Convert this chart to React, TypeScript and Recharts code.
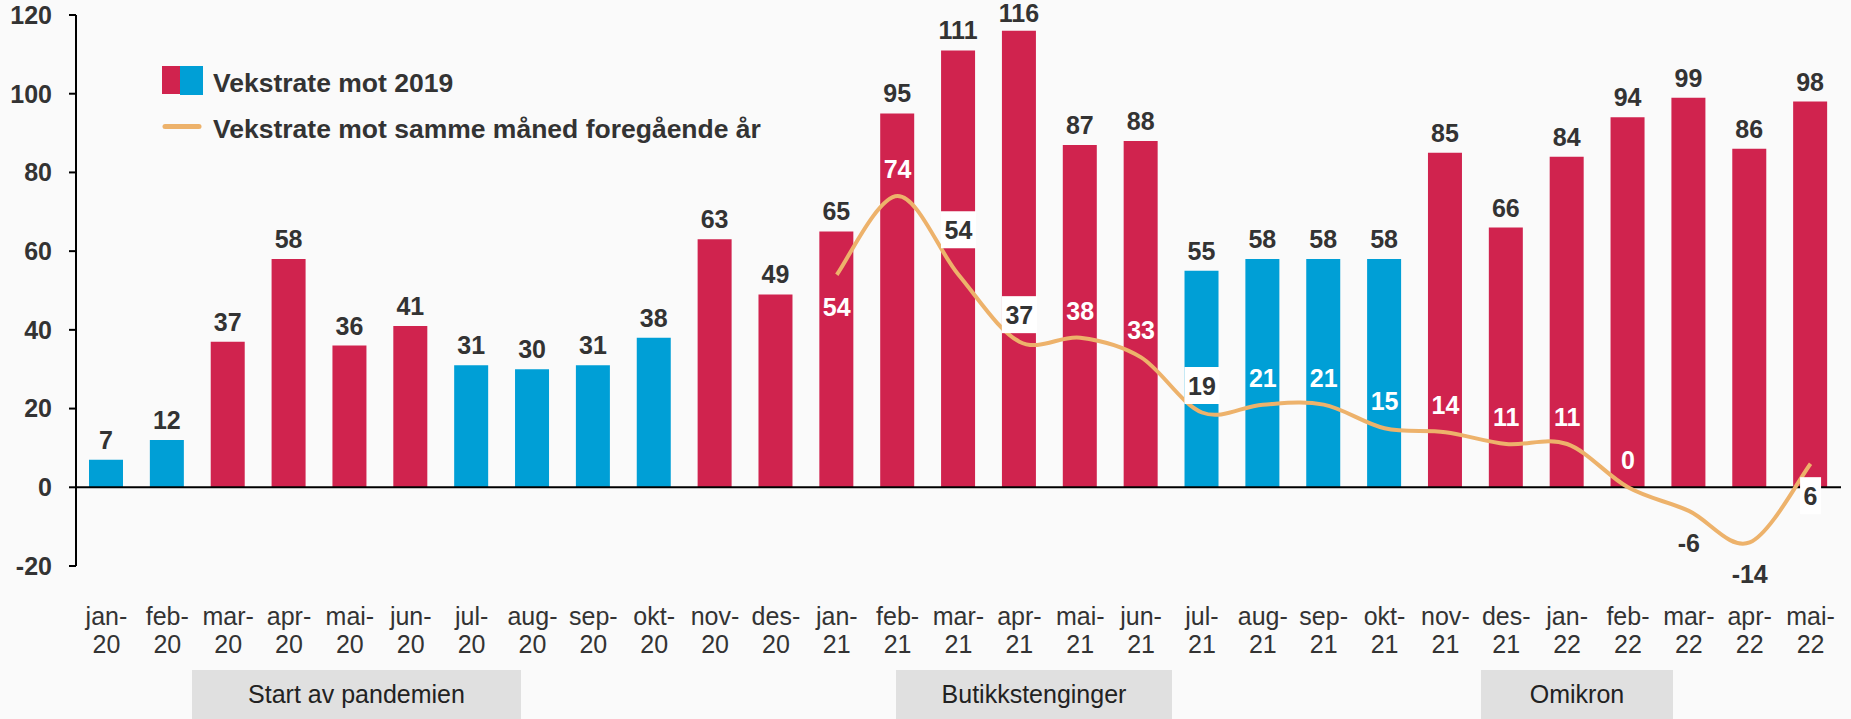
import React from 'react';
import { ComposedChart, Bar, Line, XAxis, YAxis, ReferenceLine, LabelList, Cell } from 'recharts';

// Månedene på x-aksen
const months = [
  'jan-20', 'feb-20', 'mar-20', 'apr-20', 'mai-20', 'jun-20', 'jul-20', 'aug-20', 'sep-20', 'okt-20', 'nov-20', 'des-20',
  'jan-21', 'feb-21', 'mar-21', 'apr-21', 'mai-21', 'jun-21', 'jul-21', 'aug-21', 'sep-21', 'okt-21', 'nov-21', 'des-21',
  'jan-22', 'feb-22', 'mar-22', 'apr-22', 'mai-22',
];

// Vekstrate mot 2019 (søyler)
const vekstMot2019 = [7, 12, 37, 58, 36, 41, 31, 30, 31, 38, 63, 49, 65, 95, 111, 116, 87, 88, 55, 58, 58, 58, 85, 66, 84, 94, 99, 86, 98];

// Vekstrate mot samme måned foregående år (linje)
const vekstMotFjoraret = [
  null, null, null, null, null, null, null, null, null, null, null, null,
  54, 74, 54, 37, 38, 33, 19, 21, 21, 15, 14, 11, 11, 0, -6, -14, 6,
];

// periode: 'R' = rød søyle, 'B' = blå søyle
const periode = ['B', 'B', 'R', 'R', 'R', 'R', 'B', 'B', 'B', 'B', 'R', 'R', 'R', 'R', 'R', 'R', 'R', 'R', 'B', 'B', 'B', 'B', 'R', 'R', 'R', 'R', 'R', 'R', 'R'];

const yTicks = [-20, 0, 20, 40, 60, 80, 100, 120];
const hendelser = ['Start av pandemien', 'Butikkstenginger', 'Omikron'];
const legendLabels = ['Vekstrate mot 2019', 'Vekstrate mot samme måned foregående år'];

const RED = '#D0234E';
const BLUE = '#009FD6';
const ORANGE = '#EDB26B';
const TEXT = '#333333';
const FONT = '"Liberation Sans", Arial, sans-serif';

const data = months.map((m, i) => ({ month: m, v2019: vekstMot2019[i], vYoY: vekstMotFjoraret[i] }));

// plassering av linjeetikettene
const boxedLabels = new Set(['mar-21', 'apr-21', 'jul-21', 'mai-22']);
const labelsBelow = new Set(['jan-21', 'mar-22', 'apr-22', 'mai-22']);

const BarLabel = (props: any) => {
  const vb = props.viewBox || props;
  const cx = vb.x + vb.width / 2;
  const cy = Math.max(vb.y - 20, 13);
  return (
    <text x={cx} y={cy} dy="0.36em" textAnchor="middle" fill={TEXT} fontSize={25} fontWeight="bold" fontFamily={FONT}>
      {props.value}
    </text>
  );
};

const LineLabel = (props: any) => {
  const { value, index } = props;
  if (value == null) return null;
  const vb = props.viewBox || props;
  const x = vb.x;
  const y = vb.y;
  const m = months[index];
  const dy = m === 'mar-21' ? -45 : labelsBelow.has(m) ? 32 : -27;
  const cy = y + dy;
  const boxed = boxedLabels.has(m);
  const color = boxed || value < 0 ? TEXT : '#ffffff';
  const w = String(value).length * 14 + 7;
  return (
    <g>
      {boxed && <rect x={x - w / 2} y={cy - 18.5} width={w} height={37} fill="#ffffff" />}
      <text x={x} y={cy} dy="0.36em" textAnchor="middle" fill={color} fontSize={25} fontWeight="bold" fontFamily={FONT}>
        {value}
      </text>
    </g>
  );
};

const MonthTick = (props: any) => {
  const { x, y, payload } = props;
  const [m, yr] = String(payload.value).split('-');
  return (
    <text x={x} y={y} textAnchor="middle" fill={TEXT} fontSize={25} fontFamily={FONT}>
      <tspan x={x} y={y + 59}>{m}-</tspan>
      <tspan x={x} y={y + 87}>{yr}</tspan>
    </text>
  );
};

// Excel-aktig glatting (Catmull-Rom)
const smoothCurve = (context: any) => {
  let pts: number[][] = [];
  return {
    areaStart() {},
    areaEnd() {},
    lineStart() { pts = []; },
    point(x: number, y: number) { pts.push([+x, +y]); },
    lineEnd() {
      if (!pts.length) return;
      context.moveTo(pts[0][0], pts[0][1]);
      for (let i = 0; i < pts.length - 1; i++) {
        const p0 = pts[i - 1] || pts[i];
        const p1 = pts[i];
        const p2 = pts[i + 1];
        const p3 = pts[i + 2] || p2;
        context.bezierCurveTo(
          p1[0] + (p2[0] - p0[0]) / 6, p1[1] + (p2[1] - p0[1]) / 6,
          p2[0] - (p3[0] - p1[0]) / 6, p2[1] - (p3[1] - p1[1]) / 6,
          p2[0], p2[1],
        );
      }
    },
  };
};

const boxes = [
  { left: 192, width: 329 },
  { left: 896, width: 276 },
  { left: 1481, width: 192 },
];

const App: React.FC = () => {
  return (
    <div style={{ position: 'relative', width: 1851, height: 719, background: '#fafafa', fontFamily: FONT }}>
      <style>{`body{margin:0}`}</style>
      <ComposedChart width={1851} height={719} data={data} margin={{ top: 15, right: 10, bottom: 53, left: 0 }} barSize={34}>
        <XAxis dataKey="month" axisLine={false} tickLine={false} tickSize={0} tickMargin={0} height={100} interval={0} tick={<MonthTick />} />
        <YAxis
          domain={[-20, 120]}
          ticks={yTicks}
          width={76}
          axisLine={{ stroke: '#000', strokeWidth: 2 }}
          tickLine={{ stroke: '#000', strokeWidth: 2 }}
          tickSize={7}
          tickMargin={17}
          tick={{ fill: TEXT, fontSize: 25, fontWeight: 'bold', fontFamily: FONT }}
        />
        <ReferenceLine y={0} stroke="#000" strokeWidth={2} />
        <Bar dataKey="v2019" isAnimationActive={false}>
          {data.map((d, i) => (
            <Cell key={d.month} fill={periode[i] === 'R' ? RED : BLUE} />
          ))}
          <LabelList dataKey="v2019" content={<BarLabel />} />
        </Bar>
        <Line
          dataKey="vYoY"
          type={smoothCurve as any}
          stroke={ORANGE}
          strokeWidth={4}
          dot={false}
          activeDot={false}
          isAnimationActive={false}
        >
          <LabelList dataKey="vYoY" content={<LineLabel />} />
        </Line>
      </ComposedChart>

      <svg width={1851} height={719} style={{ position: 'absolute', left: 0, top: 0, pointerEvents: 'none' }}>
        <rect x={162} y={66} width={18} height={28} fill={RED} />
        <rect x={180} y={66} width={23} height={29} fill={BLUE} />
        <text x={213} y={92} fill={TEXT} fontSize={26.5} fontWeight="bold" fontFamily={FONT}>{legendLabels[0]}</text>
        <line x1={165} y1={126.5} x2={199} y2={126.5} stroke={ORANGE} strokeWidth={5} strokeLinecap="round" />
        <text x={213} y={138} fill={TEXT} fontSize={26.5} fontWeight="bold" fontFamily={FONT}>{legendLabels[1]}</text>
      </svg>

      {hendelser.map((h, i) => (
        <div
          key={h}
          style={{
            position: 'absolute',
            left: boxes[i].left,
            width: boxes[i].width,
            top: 670,
            height: 49,
            background: '#e0e0e0',
            display: 'flex',
            alignItems: 'center',
            justifyContent: 'center',
            fontSize: 25,
            color: '#222',
          }}
        >
          {h}
        </div>
      ))}
    </div>
  );
};

export default App;
